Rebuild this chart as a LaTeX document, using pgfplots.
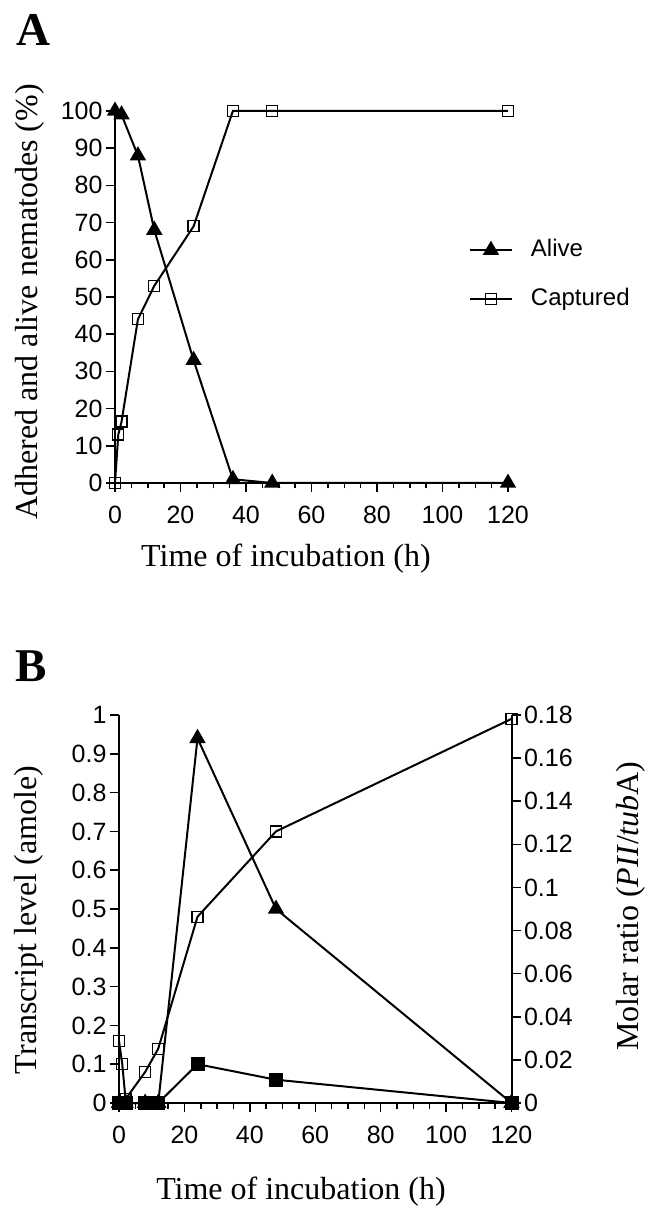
\documentclass[border=0pt]{standalone}
\usepackage{fontspec}
\setmainfont{Liberation Serif}
\setsansfont{Liberation Sans}
\usepackage{pgfplots}
\pgfplotsset{compat=1.18}
\pgfplotsset{
  myax/.style={
    scale only axis, clip=false, xmin=0, xmax=120,
    tick align=outside, major tick length=9pt, minor tick length=5.5pt,
    every tick/.style={black, line width=1.5pt},
    axis line style={line width=2pt},
    tick label style={font=\fontsize{25}{25}\sffamily},
    xticklabel style={yshift=-11pt},
    label style={font=\fontsize{32}{34}\selectfont},
    every axis plot/.append style={line width=2pt, black},
  }
}
\begin{document}
\begin{tikzpicture}
\useasboundingbox (0,0) rectangle (645pt,1206pt);
\node[font=\fontsize{47}{50}\selectfont\bfseries] at (33pt,1176pt) {A};
\node[font=\fontsize{47}{50}\selectfont\bfseries] at (31pt,540pt) {B};

% Panel A
\begin{axis}[myax, at={(115pt,723pt)}, anchor=south west,
  width=393pt, height=372pt, axis lines*=left,
  ymin=0, ymax=100,
  xtick={0,20,40,60,80,100,120}, xticklabels={0,20,40,60,80,100,120}, minor x tick num=3,
  ytick={0,10,20,30,40,50,60,70,80,90,100},
  yticklabels={0,10,20,30,40,50,60,70,80,90,100},
  xlabel={Time of incubation (h)},
  ylabel={Adhered and alive nematodes (\%)},
  xlabel style={at={(axis description cs:0.435,-0.204)}, anchor=center},
  ylabel style={at={(axis description cs:-0.216,0.487)}, anchor=center},
  legend style={draw=none, fill=none, at={(axis description cs:0.8925,0.560)}, anchor=west,
    font=\fontsize{24}{24}\sffamily, row sep=27pt, column sep=18pt,
    nodes={inner sep=0pt, text height=17pt, text depth=5pt}},
  legend cell align=left,
  legend image code/.code={\draw[mark repeat=2,mark phase=2,#1] plot coordinates {(0pt,0pt) (21pt,0pt) (42pt,0pt)};},
]
\addplot[mark=triangle*, mark size=7.5pt, mark options={solid}]
  coordinates {(0,100)(2,99)(7,88)(12,68)(24,33)(36,1)(48,0)(120,0)};
\addplot[mark=square, mark size=5.5pt, mark options={solid, fill=white, line width=1.3pt}]
  coordinates {(0,0)(1,13)(2,16.5)(7,44)(12,53)(24,69)(36,100)(48,100)(120,100)};
\legend{Alive, Captured}
\end{axis}

% Panel B left
\begin{axis}[myax, at={(119pt,103pt)}, anchor=south west,
  width=392.5pt, height=388pt, axis lines*=left,
  ymin=0, ymax=1,
  xtick={0,20,40,60,80,100,120}, xticklabels={0,20,40,60,80,100,120}, minor x tick num=3,
  ytick={0,0.1,0.2,0.3,0.4,0.5,0.6,0.7,0.8,0.9,1},
  yticklabels={0,0.1,0.2,0.3,0.4,0.5,0.6,0.7,0.8,0.9,1},
  xlabel={Time of incubation (h)},
  ylabel={Transcript level (amole)},
  xlabel style={at={(axis description cs:0.4637,-0.229)}, anchor=center},
  ylabel style={at={(axis description cs:-0.229,0.4716)}, anchor=center},
]
\addplot[mark=triangle*, mark size=7.5pt, mark options={solid}]
  coordinates {(0,0)(2,0)(8,0)(12,0)(24,0.94)(48,0.5)(120,0)};
\addplot[mark=square*, mark size=6pt, mark options={solid}]
  coordinates {(0,0)(1,0)(2,0)(8,0)(12,0)(24,0.1)(48,0.06)(120,0)};
\end{axis}

% Panel B right
\begin{axis}[myax, at={(119pt,103pt)}, anchor=south west,
  width=392.5pt, height=388pt,
  axis x line=none, axis y line*=right,
  ymin=0, ymax=0.18,
  ytick={0,0.02,0.04,0.06,0.08,0.1,0.12,0.14,0.16,0.18},
  yticklabels={0,0.02,0.04,0.06,0.08,0.1,0.12,0.14,0.16,0.18},
  ylabel={Molar ratio (\textit{PII}/\textit{tub}A)},
  ylabel style={at={(axis description cs:1.305,0.5077)}, anchor=center, rotate=0},
]
\addplot[mark=square, mark size=5.5pt, mark options={solid, fill=white, line width=1.3pt}]
  coordinates {(0,0.0288)(1,0.018)(2,0.0018)(8,0.0144)(12,0.0252)(24,0.0864)(48,0.126)(120,0.1782)};
\end{axis}
\end{tikzpicture}
\end{document}
